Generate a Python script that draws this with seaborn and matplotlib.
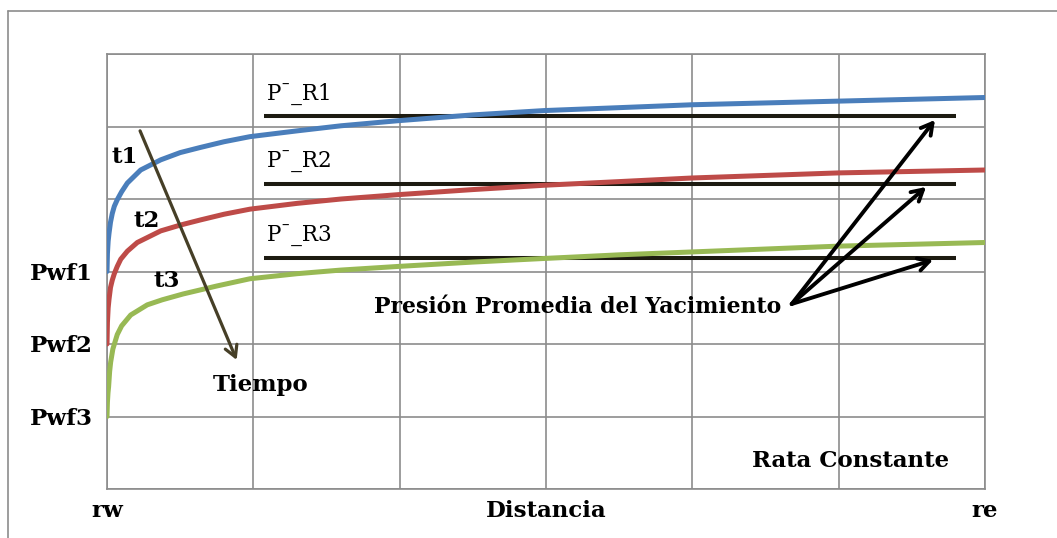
import matplotlib
matplotlib.use("Agg")
import matplotlib.pyplot as plt
import seaborn as sns
import pandas as pd
from matplotlib.lines import Line2D

# ---- data (grid units: x 0..6 = rw..re, y 0..6) ----
blue_x = [0, 0.003, 0.008, 0.014, 0.024, 0.036, 0.05, 0.07, 0.1, 0.139, 0.23, 0.367, 0.5,
          0.636, 0.8, 0.977, 1.3, 1.6, 1.99, 2.5, 2.99, 3.5, 4.0, 5.0, 6.0]
blue_y = [3.0, 3.25, 3.42, 3.53, 3.68, 3.80, 3.90, 3.99, 4.10, 4.22, 4.40, 4.54, 4.64,
          4.71, 4.79, 4.86, 4.94, 5.01, 5.08, 5.16, 5.22, 5.26, 5.30, 5.35, 5.40]
red_x = [0, 0.003, 0.008, 0.014, 0.024, 0.036, 0.05, 0.07, 0.094, 0.139, 0.207, 0.367, 0.5,
         0.636, 0.8, 0.977, 1.3, 1.6, 1.99, 2.5, 2.99, 3.5, 4.0, 5.0, 6.0]
red_y = [2.0, 2.30, 2.50, 2.62, 2.78, 2.88, 2.97, 3.07, 3.17, 3.28, 3.40, 3.56, 3.64,
         3.71, 3.79, 3.86, 3.94, 4.00, 4.06, 4.13, 4.19, 4.24, 4.29, 4.36, 4.40]
green_x = [0, 0.003, 0.007, 0.011, 0.018, 0.025, 0.04, 0.07, 0.1, 0.162, 0.275, 0.378, 0.52,
           0.75, 0.977, 1.3, 1.6, 1.99, 2.5, 2.99, 3.5, 4.0, 5.0, 6.0]
green_y = [1.0, 1.20, 1.33, 1.41, 1.62, 1.75, 1.93, 2.13, 2.25, 2.40, 2.54, 2.61, 2.69,
           2.80, 2.90, 2.97, 3.02, 3.07, 3.13, 3.18, 3.23, 3.27, 3.35, 3.40]
series_names = ["t1", "t2", "t3"]
series_colors = ["#4a7ebb", "#be4b48", "#98b954"]

pr_labels = ["P\u00af_R1", "P\u00af_R2", "P\u00af_R3"]
pr_levels = [5.14, 4.21, 3.19]
pr_start = 1.07
pr_end = 5.80

y_tick_pos = [0, 1, 2, 3, 4, 5, 6]
y_tick_labels = ["", "Pwf3", "Pwf2", "Pwf1", "", "", ""]
x_tick_pos = [0, 1, 2, 3, 4, 5, 6]
x_tick_labels = ["rw", "", "", "Distancia", "", "", "re"]

# annotation geometry
tiempo_from = (0.226, 4.94)
tiempo_to = (0.886, 1.78)
yac_from = (4.679, 2.552)
yac_to = [(5.658, 5.09), (5.597, 4.166), (5.645, 3.159)]

frames = []
for name, xs, ys in zip(series_names, [blue_x, red_x, green_x], [blue_y, red_y, green_y]):
    frames.append(pd.DataFrame({"x": xs, "y": ys, "serie": name}))
df = pd.concat(frames, ignore_index=True)

sns.set_style("white")
plt.rcParams["font.family"] = ["DejaVu Serif"]
plt.rcParams["text.color"] = "black"
plt.rcParams["xtick.color"] = "black"
plt.rcParams["ytick.color"] = "black"

W, H = 1057, 538
fig = plt.figure(figsize=(W / 100, H / 100), dpi=100)
L, R, T, B = 107, 985, 54, 489
ax = fig.add_axes([L / W, 1 - B / H, (R - L) / W, (B - T) / H])

sns.lineplot(data=df, x="x", y="y", hue="serie", palette=series_colors,
             linewidth=3.6, sort=False, estimator=None, legend=False, ax=ax,
             zorder=3)
for ln in ax.get_lines():
    ln.set_solid_joinstyle("round")

FS = 16.5
ax.set_xlim(0, 6)
ax.set_ylim(0, 6)
ax.set_xticks(x_tick_pos)
ax.set_xticklabels(x_tick_labels, fontsize=FS, fontweight="bold", color="black")
ax.set_yticks(y_tick_pos)
ax.set_yticklabels(y_tick_labels, fontsize=FS, fontweight="bold", color="black")
ax.tick_params(axis="both", length=0)
ax.tick_params(axis="y", pad=10)
ax.tick_params(axis="x", pad=8)
ax.set_xlabel("")
ax.set_ylabel("")
ax.grid(True, color="#8c8c8c", linewidth=1.2)
for s in ax.spines.values():
    s.set_color("#8c8c8c")
    s.set_linewidth(1.2)

# average reservoir pressure lines
ax.hlines(pr_levels, pr_start, pr_end, colors="#1d1b11", linewidth=2.9, zorder=2)
for lab, lev in zip(pr_labels, pr_levels):
    ax.text(pr_start + 0.02, lev + 0.15, lab, fontsize=15.5, ha="left", va="bottom",
            color="black")

# time labels
for lab, (tx, ty) in zip(series_names, [(0.12, 4.58), (0.27, 3.70), (0.41, 2.87)]):
    ax.text(tx, ty, lab, fontsize=FS, fontweight="bold", ha="center", va="center")

ax.annotate("", xy=tiempo_to, xytext=tiempo_from,
            arrowprops=dict(arrowstyle="->,head_length=0.8,head_width=0.45",
                            color="#463f27", lw=2.3, shrinkA=0, shrinkB=0), zorder=4)
ax.text(1.05, 1.43, "Tiempo", fontsize=FS, fontweight="bold", ha="center", va="center")

for tgt in yac_to:
    ax.annotate("", xy=tgt, xytext=yac_from,
                arrowprops=dict(arrowstyle="->,head_length=0.8,head_width=0.45",
                                color="black", lw=2.8, shrinkA=0, shrinkB=0), zorder=4)
ax.text(4.61, 2.505, "Presión Promedia del Yacimiento", fontsize=15.8, fontweight="bold",
        ha="right", va="center")
ax.text(5.08, 0.38, "Rata Constante", fontsize=FS, fontweight="bold", ha="center",
        va="center")

# outer frame (top and left edges visible)
fig.add_artist(Line2D([8 / W, 1], [1 - 10.5 / H, 1 - 10.5 / H], color="#8c8c8c", lw=1.2))
fig.add_artist(Line2D([8 / W, 8 / W], [0, 1 - 10.5 / H], color="#8c8c8c", lw=1.2))

fig.savefig("out.png", dpi=100)
